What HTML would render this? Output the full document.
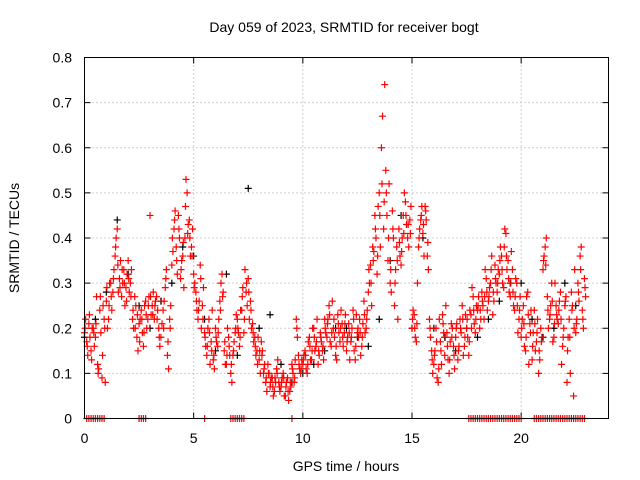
<!DOCTYPE html>
<html><head><meta charset="utf-8"><style>
body{margin:0;background:#fff}
svg{display:block;font-family:"Liberation Sans",sans-serif}
</style></head><body>
<svg id="chart" width="640" height="480" viewBox="0 0 640 480">
<rect width="640" height="480" fill="#fff"/>
<g id="grid"></g>
<g id="ticks"></g>
<g id="marks"></g>
<rect x="84.5" y="57.5" width="524" height="361" fill="none" stroke="#000" stroke-width="1"/>
<text x="344" y="32" font-size="14" text-anchor="middle">Day 059 of 2023, SRMTID for receiver bogt</text>
<text x="19" y="238" font-size="14" text-anchor="middle" transform="rotate(-90 19 238)">SRMTID / TECUs</text>
<text x="346" y="471" font-size="14" text-anchor="middle">GPS time / hours</text>
</svg>
<script>
const xTicks=[0,5,10,15,20];
const yTicks=[0,0.1,0.2,0.3,0.4,0.5,0.6,0.7,0.8];
const yTickLabels=["0","0.1","0.2","0.3","0.4","0.5","0.6","0.7","0.8"];
const redStartA=0, redStartB=0.05, redStartC=0.025, redStep=0.1;
const redA=[.19,.17,.21,.15,.2,.18,.12,.24,.09,.22,
.26,.22,.3,.28,.36,.42,.31,.27,.33,.29,
.35,.3,.22,.27,.18,.21,.24,.16,.26,.22,
.45,.25,.22,.27,.2,.18,.24,.29,.14,.22,
.34,.42,.38,.45,.31,.36,.4,.5,.44,.38,
.32,.28,.22,.34,.25,.19,.14,.22,.17,.13,
.2,.16,.26,.32,.15,.12,.18,.1,.14,.19,
.22,.16,.24,.19,.28,.31,.26,.21,.18,.15,
.13,.17,.1,.08,.12,.07,.09,.06,.11,.08,
.07,.1,.05,.09,.06,.12,.08,.22,.14,.1,
.12,.15,.1,.18,.13,.2,.16,.12,.19,.15,
.22,.18,.25,.16,.2,.14,.23,.17,.21,.19,
.15,.21,.17,.24,.13,.19,.22,.16,.26,.2,
.28,.34,.38,.45,.32,.5,.6,.42,.55,.35,
.3,.46,.25,.38,.42,.34,.45,.48,.4,.44,
.2,.23,.17,.38,.44,.41,.47,.36,.22,.15,
.12,.2,.08,.17,.23,.14,.19,.1,.21,.16,
.18,.13,.22,.25,.16,.2,.14,.23,.27,.19,
.24,.2,.28,.22,.31,.26,.3,.23,.34,.28,
.32,.36,.29,.41,.35,.27,.33,.24,.3,.22,
.18,.25,.15,.28,.21,.13,.24,.17,.1,.2,
.33,.38,.27,.22,.3,.18,.25,.21,.28,.16,
.25,.08,.22,.28,.05,.19,.3,.36,.24,.31];
const redB=[.22,.14,.18,.2,.16,.27,.11,.19,.25,.08,
.2,.3,.24,.33,.4,.28,.35,.3,.25,.32,
.28,.33,.2,.25,.15,.22,.19,.25,.2,.27,
.23,.28,.26,.24,.16,.21,.26,.33,.11,.25,
.37,.46,.32,.4,.35,.29,.53,.43,.36,.42,
.3,.24,.26,.2,.29,.16,.2,.12,.24,.11,
.17,.22,.3,.28,.12,.2,.14,.08,.17,.23,
.19,.24,.29,.33,.25,.22,.2,.17,.14,.18,
.1,.15,.12,.06,.1,.09,.05,.08,.13,.06,
.09,.05,.08,.04,.07,.1,.13,.18,.11,.13,
.14,.11,.17,.13,.2,.15,.22,.14,.17,.13,
.19,.22,.17,.26,.18,.13,.19,.24,.16,.23,
.18,.13,.2,.15,.23,.18,.14,.21,.19,.24,
.3,.25,.37,.4,.47,.38,.67,.74,.45,.52,
.28,.4,.33,.22,.36,.4,.5,.43,.38,.47,
.24,.18,.3,.42,.47,.36,.44,.33,.18,.1,
.15,.09,.22,.12,.19,.25,.13,.17,.2,.11,
.21,.16,.19,.14,.23,.18,.24,.29,.21,.25,
.27,.22,.25,.33,.24,.29,.36,.26,.3,.33,
.38,.3,.42,.33,.28,.37,.25,.31,.19,.27,
.22,.16,.27,.12,.24,.19,.15,.22,.13,.18,
.36,.4,.2,.25,.17,.3,.22,.26,.12,.2,
.27,.18,.1,.25,.33,.22,.26,.38,.2,.27];
const redC=[.2,.16,.23,.13,.19,.21,.1,.27,.14,.2,
.29,.25,.27,.31,.38,.34,.29,.33,.3,.26,
.31,.27,.24,.2,.23,.17,.22,.19,.23,.25,
.27,.23,.25,.22,.18,.26,.2,.31,.17,.2,
.4,.44,.35,.42,.33,.39,.47,.41,.4,.36,
.29,.26,.24,.31,.22,.18,.16,.19,.15,.14,
.18,.19,.24,.27,.17,.14,.16,.12,.15,.2,
.2,.18,.27,.22,.3,.28,.24,.19,.16,.12,
.15,.14,.11,.09,.1,.08,.07,.09,.1,.07,
.08,.09,.07,.06,.08,.11,.09,.2,.12,.11,
.13,.14,.12,.16,.15,.18,.17,.15,.18,.16,
.2,.21,.23,.19,.22,.16,.21,.2,.18,.21,
.17,.19,.18,.22,.16,.2,.19,.18,.23,.22,
.33,.3,.35,.42,.36,.45,.52,.48,.5,.4,
.33,.42,.3,.35,.39,.37,.41,.45,.43,.41,
.22,.2,.21,.4,.45,.43,.46,.39,.2,.13,
.14,.17,.11,.15,.21,.18,.16,.13,.18,.14,
.2,.15,.2,.22,.18,.22,.17,.2,.24,.22,
.25,.24,.26,.27,.28,.27,.33,.28,.31,.3,
.35,.33,.38,.36,.31,.3,.28,.27,.25,.24,
.2,.21,.18,.23,.19,.16,.21,.19,.15,.17,
.35,.34,.24,.23,.26,.21,.23,.24,.22,.18,
.26,.15,.18,.24,.2,.21,.28,.33,.22,.29];
const blackStart=0, blackStep=0.5;
const black=[.18,.22,.28,.44,.32,.25,.2,.26,.3,.38,.36,.22,.15,.32,.14,.51,.2,.23,.12,.08,.1,.12,.15,.2,.2,.18,.16,.22,.35,.45,.2,.4,.2,.18,.15,.2,.18,.22,.26,.3,.3,.22,.18,.2,.3,.25];
const zeroTimes=[0.1,0.2,0.3,0.4,0.5,0.6,0.7,0.8,0.9,2.5,2.6,2.7,2.8,5.5,6.7,6.8,6.9,7.0,7.1,7.2,7.3,9.5,
17.6,17.7,17.8,17.9,18.0,18.1,18.2,18.3,18.4,18.5,18.6,18.7,18.8,18.9,19.0,19.1,19.2,19.3,19.4,19.5,19.6,19.7,19.8,19.9,20.0,
20.6,20.7,20.8,20.9,21.0,21.1,21.2,21.3,21.4,21.5,21.6,21.7,21.8,21.9,22.0,22.1,22.2,22.3,22.4,22.5,22.6,22.7,22.8,22.9];

const X0=84.5,X1=608.5,Y0=418.5,Y1=57.5,XMAX=24,YMAX=0.8;
const xs=t=>X0+(X1-X0)*t/XMAX;
const ys=v=>Y0-(Y0-Y1)*v/YMAX;
const NS="http://www.w3.org/2000/svg";
function mk(tag,parent,attrs){const e=document.createElementNS(NS,tag);for(const k in attrs)e.setAttribute(k,attrs[k]);parent.appendChild(e);return e;}
const grid=document.getElementById('grid'),ticks=document.getElementById('ticks'),marks=document.getElementById('marks');
xTicks.forEach((t,i)=>{const x=xs(t);
 if(t>0){const g=mk('line',grid,{x1:x,x2:x,y1:Y1,y2:Y0,stroke:'#a0a0a0','stroke-dasharray':'1,3'});
 
 }
 mk('line',ticks,{x1:x,x2:x,y1:Y0,y2:Y0-6,stroke:'#000'});
 mk('line',ticks,{x1:x,x2:x,y1:Y1,y2:Y1+6,stroke:'#000'});
 const l=mk('text',ticks,{x:x,y:443,'font-size':14,'text-anchor':'middle'});l.textContent=String(t);
 
 
});
yTicks.forEach((v,i)=>{const y=ys(v);
 if(v>0&&v<YMAX){const g=mk('line',grid,{x1:X0,x2:X1,y1:y,y2:y,stroke:'#a0a0a0','stroke-dasharray':'1,3'});
 
 }
 mk('line',ticks,{x1:X0,x2:X0+6,y1:y,y2:y,stroke:'#000'});
 mk('line',ticks,{x1:X1,x2:X1-6,y1:y,y2:y,stroke:'#000'});
 const l=mk('text',ticks,{x:72,y:y+5,'font-size':14,'text-anchor':'end'});l.textContent=yTickLabels[i];
 
 
});
function plus(t,v,color,name){const x=xs(t),y=ys(v);
 const p=mk('path',marks,{d:`M${x-3.5},${y}H${x+3.5}M${x},${y-3.5}V${y+3.5}`,stroke:color,'stroke-width':1.2,fill:'none'});
 
 }
black.forEach((v,i)=>plus(blackStart+i*blackStep,v,'#000','black-point'));
redA.forEach((v,i)=>plus(redStartA+i*redStep,v,'#f00','red-point'));
redB.forEach((v,i)=>plus(redStartB+i*redStep,v,'#f00','red-point'));
redC.forEach((v,i)=>plus(redStartC+i*redStep,v,'#f00','red-point'));
zeroTimes.forEach(t=>plus(t,0,'#f00','zero-point'));
</script>
</body></html>
